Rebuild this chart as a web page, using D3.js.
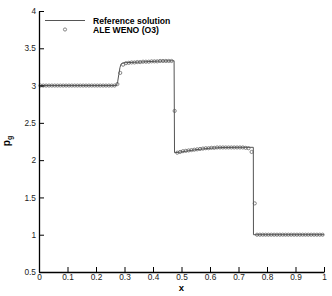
<!DOCTYPE html>
<html><head><meta charset="utf-8">
<script src="https://cdn.jsdelivr.net/npm/d3@7/dist/d3.min.js"></script>
<style>
html,body{margin:0;padding:0;background:#fff;}
svg{display:block;font-family:"Liberation Sans",Arial,sans-serif;}
</style></head>
<body><svg id="c" width="332" height="296"></svg>
<script>
// ---- data ----
const cellX = [0.005,0.015,0.025,0.035,0.045,0.055,0.065,0.075,0.085,0.095,
  0.105,0.115,0.125,0.135,0.145,0.155,0.165,0.175,0.185,0.195,
  0.205,0.215,0.225,0.235,0.245,0.255,0.265,0.275,0.285,0.295,
  0.305,0.315,0.325,0.335,0.345,0.355,0.365,0.375,0.385,0.395,
  0.405,0.415,0.425,0.435,0.445,0.455,0.465,0.476,0.485,0.495,
  0.505,0.515,0.525,0.535,0.545,0.555,0.565,0.575,0.585,0.595,
  0.605,0.615,0.625,0.635,0.645,0.655,0.665,0.675,0.685,0.695,
  0.705,0.715,0.725,0.735,0.746,0.757,0.765,0.775,0.785,0.795,
  0.805,0.815,0.825,0.835,0.845,0.855,0.865,0.875,0.885,0.895,
  0.905,0.915,0.925,0.935,0.945,0.955,0.965,0.975,0.985,0.995];
const wenoPg = [3.00,3.00,3.00,3.00,3.00,3.00,3.00,3.00,3.00,3.00,
  3.00,3.00,3.00,3.00,3.00,3.00,3.00,3.00,3.00,3.00,
  3.00,3.00,3.00,3.00,3.00,3.00,3.00,3.02,3.17,3.28,
  3.30,3.305,3.31,3.31,3.315,3.315,3.32,3.32,3.32,3.325,
  3.325,3.325,3.33,3.33,3.33,3.33,3.33,2.66,2.10,2.11,
  2.12,2.125,2.13,2.135,2.14,2.145,2.15,2.155,2.16,2.16,
  2.165,2.165,2.17,2.17,2.17,2.17,2.17,2.17,2.17,2.17,
  2.17,2.17,2.165,2.16,2.11,1.42,1.00,1.00,1.00,1.00,
  1.00,1.00,1.00,1.00,1.00,1.00,1.00,1.00,1.00,1.00,
  1.00,1.00,1.00,1.00,1.00,1.00,1.00,1.00,1.00,1.00];
const refX = [0,0.272,0.276,0.280,0.284,0.288,0.295,0.35,0.42,0.474,0.4755,0.49,0.55,0.60,0.65,0.70,0.752,0.7525,1];
const refPg = [3.0,3.0,3.05,3.15,3.24,3.29,3.305,3.315,3.328,3.333,2.10,2.105,2.14,2.16,2.17,2.172,2.172,1.0,1.0];
const xTicks = [0,0.1,0.2,0.3,0.4,0.5,0.6,0.7,0.8,0.9,1];
const xTickLabels = ["0","0.1","0.2","0.3","0.4","0.5","0.6","0.7","0.8","0.9","1"];
const yTicks = [0.5,1,1.5,2,2.5,3,3.5,4];
const yTickLabels = ["0.5","1","1.5","2","2.5","3","3.5","4"];
const xMinor = [0.02,0.04,0.06,0.08,0.12,0.14,0.16,0.18,0.22,0.24,0.26,0.28,0.32,0.34,0.36,0.38,0.42,0.44,0.46,0.48,0.52,0.54,0.56,0.58,0.62,0.64,0.66,0.68,0.72,0.74,0.76,0.78,0.82,0.84,0.86,0.88,0.92,0.94,0.96,0.98];
const yMinor = [0.6,0.7,0.8,0.9,1.1,1.2,1.3,1.4,1.6,1.7,1.8,1.9,2.1,2.2,2.3,2.4,2.6,2.7,2.8,2.9,3.1,3.2,3.3,3.4,3.6,3.7,3.8,3.9];
const legendLabels = ["Reference solution","ALE WENO (O3)"];

// ---- chart ----
const svg = d3.select("#c");
const L = 39, R = 324, T = 11, B = 272;
const x = d3.scaleLinear().domain([0,1]).range([L,R]);
const y = d3.scaleLinear().domain([0.5,4]).range([B,T]);

// reference line
svg.append("path")
  .datum(refX.map((d,i)=>[d,refPg[i]]))
  .attr("fill","none").attr("stroke","#555").attr("stroke-width",1)
  .attr("d", d3.line().x(d=>x(d[0])).y(d=>y(d[1])));

// symbols
svg.append("g").selectAll("circle")
  .data(cellX.map((d,i)=>[d,wenoPg[i]]))
  .join("circle")
  .attr("cx",d=>x(d[0])).attr("cy",d=>y(d[1])).attr("r",1.6)
  .attr("fill","none").attr("stroke","#555").attr("stroke-width",0.7);

// axes
const fs = "8.3px";
const gx = svg.append("g").attr("transform",`translate(0,${B})`);
gx.call(d3.axisBottom(x).tickValues(xMinor).tickSize(-2.5).tickFormat(""));
gx.call(d3.axisBottom(x).tickValues(xTicks).tickSizeInner(-5).tickSizeOuter(0).tickPadding(2)
  .tickFormat((d,i)=>xTickLabels[i]));
const gy = svg.append("g").attr("transform",`translate(${L},0)`);
gy.call(d3.axisLeft(y).tickValues(yMinor).tickSize(-2.5).tickFormat(""));
gy.call(d3.axisLeft(y).tickValues(yTicks).tickSizeInner(-5).tickSizeOuter(0).tickPadding(3)
  .tickFormat((d,i)=>yTickLabels[i]));
svg.selectAll(".domain").attr("stroke","#000").attr("stroke-width",1.3);
svg.selectAll(".tick line").attr("stroke","#000").attr("stroke-width",1);
svg.selectAll(".tick text").attr("font-size",fs).attr("fill","#222").attr("font-family","Liberation Sans, Arial, sans-serif");

// axis titles
svg.append("text").attr("x",x(0.5)).attr("y",291).attr("text-anchor","middle")
  .attr("font-size","9.5px").attr("font-weight","bold").text("x");
const yl = svg.append("text").attr("transform","translate(9.5,141) rotate(-90)")
  .attr("text-anchor","middle").attr("font-size","10px").attr("font-weight","bold");
yl.append("tspan").text("p");
yl.append("tspan").attr("font-size","7px").attr("dy","2").text("g");

// legend
const lg = svg.append("g");
lg.append("line").attr("x1",45).attr("x2",85).attr("y1",20.5).attr("y2",20.5)
  .attr("stroke","#555").attr("stroke-width",1);
lg.append("circle").attr("cx",65).attr("cy",29.5).attr("r",1.6)
  .attr("fill","none").attr("stroke","#555").attr("stroke-width",0.7);
lg.selectAll("text").data(legendLabels).join("text")
  .attr("x",93).attr("y",(d,i)=>23.5+i*9.5)
  .attr("font-size","8.6px").attr("font-weight","bold").attr("fill","#000").text(d=>d);
</script></body></html>
